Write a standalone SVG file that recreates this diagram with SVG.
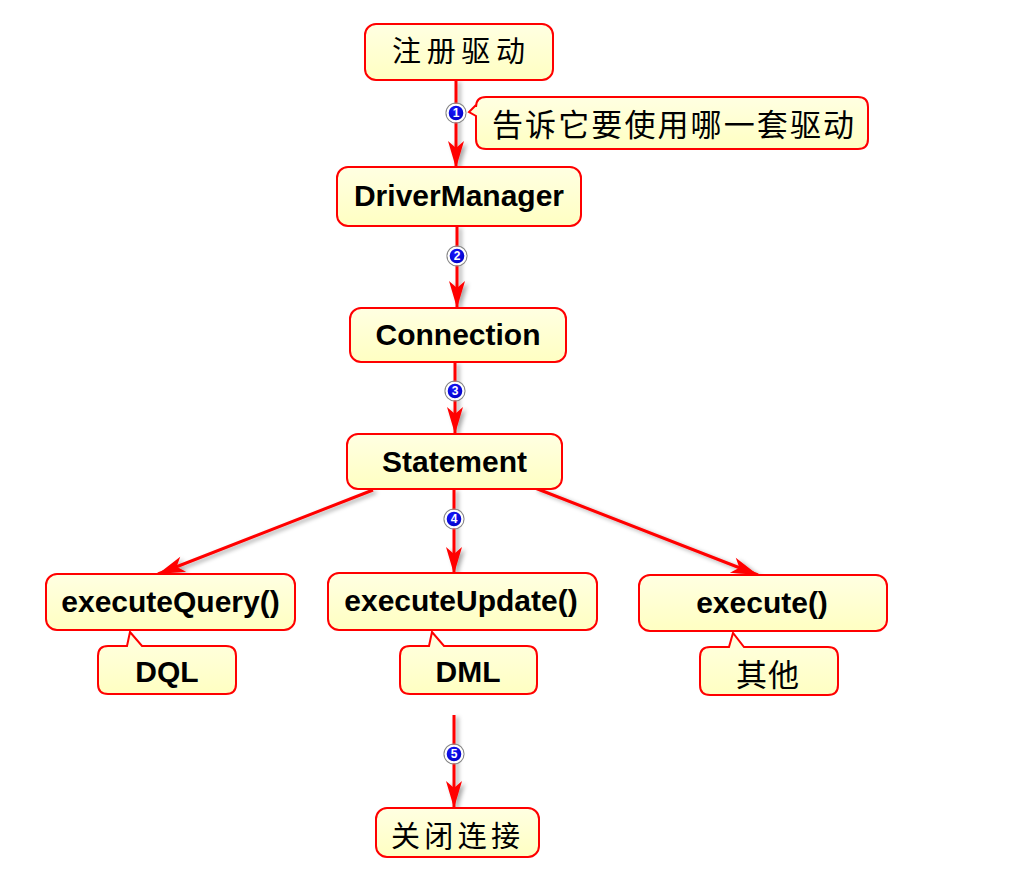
<svg xmlns="http://www.w3.org/2000/svg" width="1024" height="885" viewBox="0 0 1024 885">
<defs>
  <linearGradient id="fillG" x1="0" y1="0" x2="0" y2="1">
    <stop offset="0" stop-color="#FFFFE2"/>
    <stop offset="1" stop-color="#FFFFC2"/>
  </linearGradient>
  <radialGradient id="badgeG" cx="0.4" cy="0.35" r="0.7">
    <stop offset="0" stop-color="#1818ff"/>
    <stop offset="1" stop-color="#0000c0"/>
  </radialGradient>
  <marker id="arr" markerUnits="userSpaceOnUse" viewBox="-28 -9 29 18" refX="0" refY="0" markerWidth="29" markerHeight="18" orient="auto">
    <path d="M0,0 L-27,-8 L-20,0 L-27,8 Z" fill="#FF0000"/>
  </marker>
  <filter id="shadow" x="-20%" y="-20%" width="140%" height="140%">
    <feDropShadow dx="3" dy="2" stdDeviation="2" flood-color="#000" flood-opacity="0.35"/>
  </filter>
</defs>
<style>
  .box { fill: url(#fillG); stroke: #FF0000; stroke-width: 2; }
  .en { font-family: "Liberation Sans", Arial, sans-serif; font-weight: bold; font-size: 30px; fill: #000; text-anchor: middle; }
  .cn { font-family: "Noto Sans CJK SC", sans-serif; fill: #000; }
  .edge { stroke: #FF0000; stroke-width: 3; fill: none; marker-end: url(#arr); }
  .badge { fill: url(#badgeG); stroke: #fff; stroke-width: 2; }
  .ring { fill: none; stroke: #8a8a8a; stroke-width: 1.2; }
  .num { font-family: "Liberation Sans", Arial, sans-serif; font-weight: bold; font-size: 12px; fill: #fff; text-anchor: middle; }
</style>
<rect width="1024" height="885" fill="#FFFFFF"/>

<g id="connectors" filter="url(#shadow)">
  <line class="edge" x1="456" y1="80" x2="456" y2="168"/>
  <line class="edge" x1="457" y1="226" x2="457" y2="308"/>
  <line class="edge" x1="455" y1="362" x2="455" y2="434"/>
  <line class="edge" x1="373" y1="490" x2="158" y2="574"/>
  <line class="edge" x1="454" y1="489" x2="454" y2="574"/>
  <line class="edge" x1="535" y1="488" x2="758" y2="575"/>
  <line class="edge" x1="454" y1="715" x2="454" y2="808"/>
</g>

<g id="badges">
  <g id="badge1"><circle class="ring" cx="456" cy="113" r="10"/><circle class="badge" cx="456" cy="113" r="8.3"/><text class="num" x="456" y="117.3">1</text></g>
  <g id="badge2"><circle class="ring" cx="457" cy="256" r="10"/><circle class="badge" cx="457" cy="256" r="8.3"/><text class="num" x="457" y="260.3">2</text></g>
  <g id="badge3"><circle class="ring" cx="455" cy="391" r="10"/><circle class="badge" cx="455" cy="391" r="8.3"/><text class="num" x="455" y="395.3">3</text></g>
  <g id="badge4"><circle class="ring" cx="454" cy="519" r="10"/><circle class="badge" cx="454" cy="519" r="8.3"/><text class="num" x="454" y="523.3">4</text></g>
  <g id="badge5"><circle class="ring" cx="454" cy="754" r="10"/><circle class="badge" cx="454" cy="754" r="8.3"/><text class="num" x="454" y="758.3">5</text></g>
</g>

<g id="node-register">
  <rect class="box" x="365" y="24" width="188" height="56" rx="11"/>
  <text class="cn" x="392" y="62" font-size="29" textLength="133" lengthAdjust="spacing">注册驱动</text>
</g>

<g id="callout-register">
  <path class="box" d="M486,97 L858,97 Q868,97 868,107 L868,139 Q868,149 858,149 L486,149 Q476,149 476,139 L476,116 L469,112 L476,105 L476,107 Q476,97 486,97 Z"/>
  <text class="cn" x="492" y="136" font-size="31" textLength="362" lengthAdjust="spacing">告诉它要使用哪一套驱动</text>
</g>

<g id="node-drivermanager">
  <rect class="box" x="337" y="167" width="244" height="59" rx="11"/>
  <text class="en" x="459" y="206">DriverManager</text>
</g>

<g id="node-connection">
  <rect class="box" x="350" y="308" width="216" height="54" rx="11"/>
  <text class="en" x="458" y="345">Connection</text>
</g>

<g id="node-statement">
  <rect class="box" x="347" y="434" width="215" height="55" rx="11"/>
  <text class="en" x="454.5" y="472">Statement</text>
</g>

<g id="node-executequery">
  <rect class="box" x="46" y="574" width="249" height="56" rx="11"/>
  <text class="en" x="170.5" y="612">executeQuery()</text>
</g>

<g id="node-executeupdate">
  <rect class="box" x="328" y="573" width="269" height="57" rx="11"/>
  <text class="en" x="461" y="611">executeUpdate()</text>
</g>

<g id="node-execute">
  <rect class="box" x="639" y="575" width="248" height="56" rx="11"/>
  <text class="en" x="762" y="613">execute()</text>
</g>

<g id="callout-dql">
  <path class="box" d="M108,646 L127,646 L130,632 L142,646 L226,646 Q236,646 236,656 L236,684 Q236,694 226,694 L108,694 Q98,694 98,684 L98,656 Q98,646 108,646 Z"/>
  <text class="en" x="167" y="682">DQL</text>
</g>

<g id="callout-dml">
  <path class="box" d="M410,646 L429,646 L432,632 L444,646 L527,646 Q537,646 537,656 L537,684 Q537,694 527,694 L410,694 Q400,694 400,684 L400,656 Q400,646 410,646 Z"/>
  <text class="en" x="468" y="682">DML</text>
</g>

<g id="callout-other">
  <path class="box" d="M710,647 L729,647 L733,633 L744,647 L828,647 Q838,647 838,657 L838,685 Q838,695 828,695 L710,695 Q700,695 700,685 L700,657 Q700,647 710,647 Z"/>
  <text class="cn" x="736" y="686" font-size="31" textLength="63" lengthAdjust="spacing">其他</text>
</g>

<g id="node-close">
  <rect class="box" x="376" y="808" width="163" height="49" rx="11"/>
  <text class="cn" x="391" y="847" font-size="29" textLength="129" lengthAdjust="spacing">关闭连接</text>
</g>
</svg>
